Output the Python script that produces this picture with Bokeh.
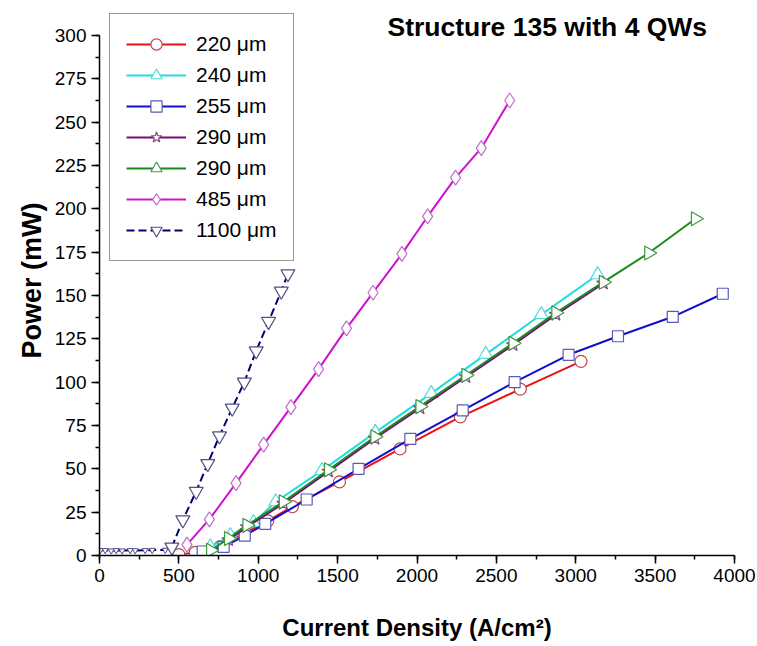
import numpy as np
from bokeh.plotting import figure
from bokeh.models import Range1d, SingleIntervalTicker, Legend, LegendItem, Label
from bokeh.embed import file_html
from bokeh.resources import INLINE

# ---- data (current density A/cm^2, power mW) ----
J_220 = [500, 603, 761, 908, 1060, 1215, 1512, 1893, 2273, 2651, 3033]
P_220 = [0.5, 1.8, 5.2, 12.5, 20.0, 28.2, 42.5, 61.5, 80.0, 96.0, 112.0]

J_240 = [698, 824, 970, 1110, 1401, 1737, 2090, 2433, 2783, 3138]
P_240 = [5.0, 11.5, 19.0, 31.0, 49.0, 71.0, 93.5, 116.0, 139.0, 162.0]

J_255 = [650, 782, 915, 1044, 1305, 1632, 1958, 2288, 2615, 2955, 3266, 3611, 3926]
P_255 = [2.3, 5.0, 11.5, 18.3, 32.3, 50.0, 67.3, 83.7, 100.0, 115.8, 126.5, 137.7, 151.0]

J_290s = [813, 929, 1158, 1443, 1735, 2019, 2308, 2605, 2875, 3174]
P_290s = [9.0, 16.5, 30.0, 48.5, 67.5, 85.0, 103.0, 121.5, 139.0, 157.0]

J_290t = [700, 813, 929, 1158, 1443, 1735, 2019, 2308, 2605, 2875, 3174, 3460, 3754]
P_290t = [3.0, 9.8, 17.5, 31.0, 49.5, 68.5, 86.0, 104.0, 122.5, 140.0, 157.7, 174.5, 194.3]

J_485 = [551, 692, 860, 1034, 1206, 1380, 1556, 1723, 1905, 2067, 2243, 2405, 2584]
P_485 = [6.3, 20.8, 41.8, 64.0, 85.6, 107.5, 131.0, 151.6, 174.0, 195.6, 218.0, 235.0, 262.5]

J_1100 = [5, 36, 74, 105, 143, 193, 225, 288, 332, 414,
          456, 525, 609, 682, 756, 836, 912, 987, 1065, 1145, 1187]
P_1100 = [3.0, 3.0, 2.8, 3.0, 2.8, 3.0, 2.9, 3.0, 3.1, 3.2,
          4.8, 20.5, 37.0, 53.0, 69.0, 85.0, 100.0, 118.0, 135.0, 152.5, 162.5]
N_SUB_1100 = 10  # sub-threshold points of the 1100 um device

labels = ["220 \u03bcm", "240 \u03bcm", "255 \u03bcm", "290 \u03bcm", "290 \u03bcm", "485 \u03bcm", "1100 \u03bcm"]
title_text = "Structure 135 with 4 QWs"
x_title = "Current Density (A/cm\u00b2)"
y_title = "Power (mW)"

FONT = "Liberation Sans"

# frame extends above the axis end (300) so legend/title are inside the canvas frame
p = figure(width=757, height=646, output_backend="svg", toolbar_location=None,
           x_range=Range1d(0, 4000), y_range=Range1d(0, 317.3),
           min_border_left=99, min_border_right=23, min_border_top=5, min_border_bottom=91)
p.grid.visible = False
p.outline_line_color = None
p.background_fill_color = "white"
p.border_fill_color = "white"

for ax, iv in ((p.xaxis[0], 500), (p.yaxis[0], 25)):
    ax.ticker = SingleIntervalTicker(interval=iv, num_minor_ticks=2)
    ax.axis_line_width = 1.5
    ax.axis_line_color = "black"
    ax.major_tick_line_color = "black"
    ax.minor_tick_line_color = "black"
    ax.major_tick_line_width = 1.5
    ax.minor_tick_line_width = 1.5
    ax.major_tick_out = 8
    ax.major_tick_in = 0
    ax.minor_tick_out = 4
    ax.minor_tick_in = 0
    ax.major_label_text_font = FONT
    ax.major_label_text_font_size = "19px"
    ax.major_label_text_color = "black"
    ax.major_label_standoff = 5
    ax.axis_label_text_font = FONT
    ax.axis_label_text_font_style = "bold"
    ax.axis_label_text_color = "black"

p.yaxis.bounds = (0, 300)
p.xaxis.axis_label = x_title
p.xaxis.axis_label_text_font_size = "24px"
p.xaxis.axis_label_standoff = 29
p.yaxis.axis_label = y_title
p.yaxis.axis_label_text_font_size = "27px"
p.yaxis.axis_label_standoff = 5

items = []

def series(J, P, line_color, marker, m_color, size, label, dash="solid", angle=0.0, sub=0):
    r_line = p.line(J, P, line_color=line_color, line_width=2, line_dash=dash)
    if sub:
        p.scatter(J[:sub], P[:sub], marker=marker, size=6, line_color=m_color,
                  fill_color="white", line_width=1, angle=angle)
    r_m = p.scatter(J[sub:], P[sub:], marker=marker, size=size, line_color=m_color,
                    fill_color="white", line_width=1.2, angle=angle)
    items.append(LegendItem(label=label, renderers=[r_line, r_m]))

series(J_220, P_220, "#ee1111", "circle", "#c04848", 12, labels[0])
series(J_240, P_240, "#22dddd", "triangle", "#55d8d8", 14, labels[1])
series(J_255, P_255, "#1010cc", "square", "#5a5ab8", 11, labels[2])
series(J_290s, P_290s, "#7a0a7a", "star", "#884488", 14, labels[3])
series(J_290t, P_290t, "#1e8a1e", "triangle", "#3f9a3f", 14, labels[4], angle=-np.pi / 2)
series(J_485, P_485, "#d010d0", "diamond", "#c070c8", 15, labels[5])
series(J_1100, P_1100, "#000070", "inverted_triangle", "#505088", 14, labels[6],
       dash="8 4", sub=N_SUB_1100)

legend = Legend(items=items, location=(10, 294), margin=0, padding=16, spacing=3,
                glyph_width=60, glyph_height=28, label_height=28, label_standoff=10,
                label_text_font=FONT, label_text_font_size="21px", label_text_color="black",
                border_line_color="#333333", border_line_width=1.3,
                background_fill_color="white", background_fill_alpha=1.0)
p.add_layout(legend, "center")

p.add_layout(Label(x=2821, y=304.7, text=title_text, text_align="center",
                   text_baseline="alphabetic", text_font=FONT, text_font_size="26.5px",
                   text_font_style="bold", text_color="black"))

open("out.html", "w").write(file_html(p, INLINE))
